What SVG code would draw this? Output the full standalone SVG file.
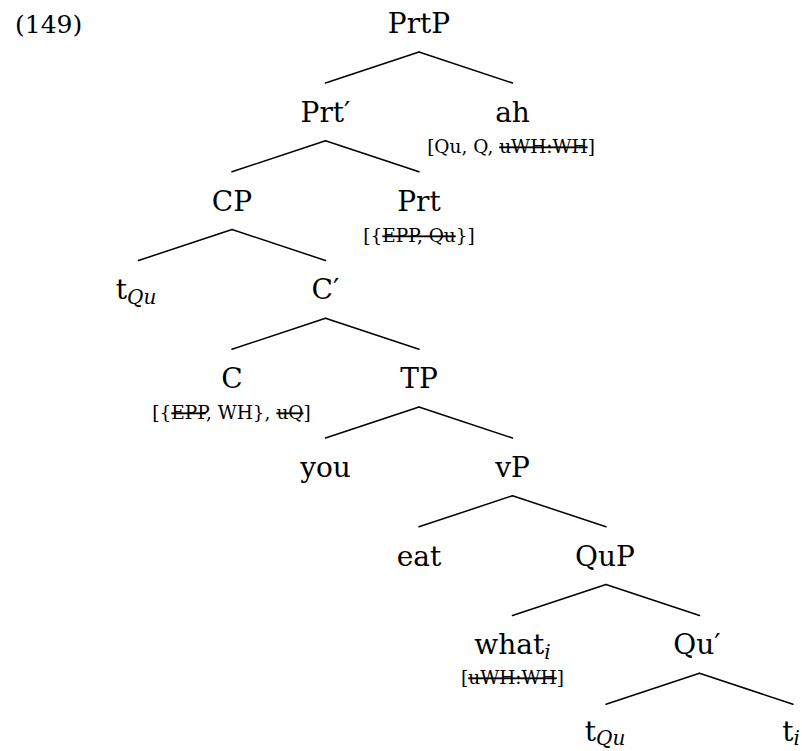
<svg xmlns="http://www.w3.org/2000/svg" width="802" height="751" viewBox="0 0 802 751">
<style>
text { font-family: "DejaVu Serif", "Liberation Serif", serif; fill: #000; }
.lbl { font-size: 28px; text-anchor: middle; }
.num { font-size: 25px; }
.feat { font-size: 18.5px; text-anchor: middle; }
.sub { font-size: 20px; font-style: italic; }
.s { text-decoration: line-through; }
.edges line { stroke: #000; stroke-width: 1.5; stroke-linecap: round; }
</style>
<rect x="0" y="0" width="802" height="751" fill="#fff"/>
<text class="num" x="15" y="33">(149)</text>
<g class="edges" id="connectors">
  <line x1="419" y1="52" x2="325.5" y2="83"/>
  <line x1="419" y1="52" x2="512.5" y2="83"/>
  <line x1="325.5" y1="140.75" x2="232" y2="171.75"/>
  <line x1="325.5" y1="140.75" x2="419" y2="171.75"/>
  <line x1="232" y1="229.5" x2="138.5" y2="260.5"/>
  <line x1="232" y1="229.5" x2="325.5" y2="260.5"/>
  <line x1="325.5" y1="318.25" x2="232" y2="349.25"/>
  <line x1="325.5" y1="318.25" x2="419" y2="349.25"/>
  <line x1="419" y1="407" x2="325.5" y2="438"/>
  <line x1="419" y1="407" x2="512.5" y2="438"/>
  <line x1="512.5" y1="495.75" x2="419" y2="526.75"/>
  <line x1="512.5" y1="495.75" x2="606" y2="526.75"/>
  <line x1="606" y1="584.5" x2="512.5" y2="615.5"/>
  <line x1="606" y1="584.5" x2="699.5" y2="615.5"/>
  <line x1="699.5" y1="673.25" x2="606" y2="704.25"/>
  <line x1="699.5" y1="673.25" x2="793" y2="704.25"/>
</g>
<g id="PrtP"><text class="lbl" x="419" y="33">PrtP</text></g>
<g id="PrtBar"><text class="lbl" x="325.5" y="121.75">Prt′</text></g>
<g id="ah"><text class="lbl" x="512.5" y="121.75">ah</text>
  <text class="feat" x="511" y="153">[Qu, Q, <tspan class="s">uWH:WH</tspan>]</text></g>
<g id="CP"><text class="lbl" x="232" y="210.5">CP</text></g>
<g id="Prt"><text class="lbl" x="419" y="210.5">Prt</text>
  <text class="feat" x="419" y="242">[{<tspan class="s">EPP, Qu</tspan>}]</text></g>
<g id="tQu1"><text class="lbl" x="136" y="299.25">t<tspan class="sub" dy="5">Qu</tspan></text></g>
<g id="CBar"><text class="lbl" x="325.5" y="299.25">C′</text></g>
<g id="C"><text class="lbl" x="232" y="388">C</text>
  <text class="feat" x="231.5" y="419">[{<tspan class="s">EPP</tspan>, WH}, <tspan class="s">uQ</tspan>]</text></g>
<g id="TP"><text class="lbl" x="419" y="388">TP</text></g>
<g id="you"><text class="lbl" x="325.5" y="476.75">you</text></g>
<g id="vP"><text class="lbl" x="512.5" y="476.75">vP</text></g>
<g id="eat"><text class="lbl" x="419" y="565.5">eat</text></g>
<g id="QuP"><text class="lbl" x="605" y="565.5">QuP</text></g>
<g id="what"><text class="lbl" x="512.5" y="654.25">what<tspan class="sub" dy="5">i</tspan></text>
  <text class="feat" x="512.5" y="684">[<tspan class="s">uWH:WH</tspan>]</text></g>
<g id="QuBar"><text class="lbl" x="697" y="654.25">Qu′</text></g>
<g id="tQu2"><text class="lbl" x="605" y="741">t<tspan class="sub" dy="4">Qu</tspan></text></g>
<g id="ti"><text class="lbl" x="791" y="741">t<tspan class="sub" dy="4">i</tspan></text></g>
</svg>
